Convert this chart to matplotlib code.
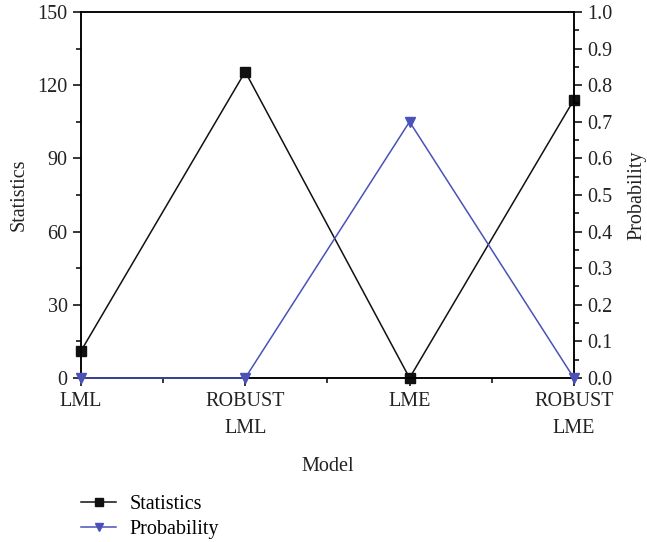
import matplotlib.pyplot as plt
from matplotlib.ticker import MultipleLocator

plt.rcParams['font.family'] = ['Liberation Serif', 'DejaVu Serif']

models = ['LML', 'ROBUST\nLML', 'LME', 'ROBUST\nLME']
statistics = [11.0, 125.5, 0.0, 114.0]
probability = [0.0, 0.0, 0.70, 0.0]

x = list(range(len(models)))
blue = '#4a52b8'
txt = '#222222'
fs = 14.5

fig = plt.figure(figsize=(6.47, 5.42), dpi=100)
ax = fig.add_axes([0.125, 0.3026, 0.762, 0.6754])
ax2 = ax.twinx()

l1, = ax.plot(x, statistics, color='#111111', lw=1.1, marker='s', ms=6.5,
              label='Statistics', zorder=3, clip_on=False)
l2, = ax2.plot(x, probability, color=blue, lw=1.1, marker='v', ms=7,
               label='Probability', zorder=3, clip_on=False)

ax.set_xlim(0, 3)
ax.set_ylim(0, 150)
ax2.set_ylim(0, 1.0)
ax.set_xticks(x)
ax.set_xticklabels(models, fontsize=fs, color=txt, linespacing=1.55)
ax.xaxis.set_minor_locator(MultipleLocator(0.5))
ax.yaxis.set_major_locator(MultipleLocator(30))
ax.yaxis.set_minor_locator(MultipleLocator(15))
ax2.yaxis.set_major_locator(MultipleLocator(0.1))
ax2.yaxis.set_minor_locator(MultipleLocator(0.05))
ax2.yaxis.set_major_formatter(plt.FormatStrFormatter('%.1f'))

for a in (ax, ax2):
    a.tick_params(which='major', length=6, width=1.1, labelsize=fs,
                  labelcolor=txt, direction='out')
    a.tick_params(which='minor', length=3.5, width=1.1, direction='out')
    for s in a.spines.values():
        s.set_linewidth(1.1)
ax.tick_params(axis='x', which='major', pad=4)

ax.set_xlabel('Model', fontsize=fs, labelpad=14, color=txt)
ax.set_ylabel('Statistics', fontsize=fs, color=txt, labelpad=6)
ax2.set_ylabel('Probability', fontsize=fs, color=txt, labelpad=11)

fig.legend(handles=[l1, l2], loc='upper left', bbox_to_anchor=(0.097, 0.121),
           frameon=False, fontsize=fs, handlelength=1.75, handletextpad=0.65,
           labelspacing=0.3, markerscale=0.8)

fig.savefig('out.png', dpi=100)
